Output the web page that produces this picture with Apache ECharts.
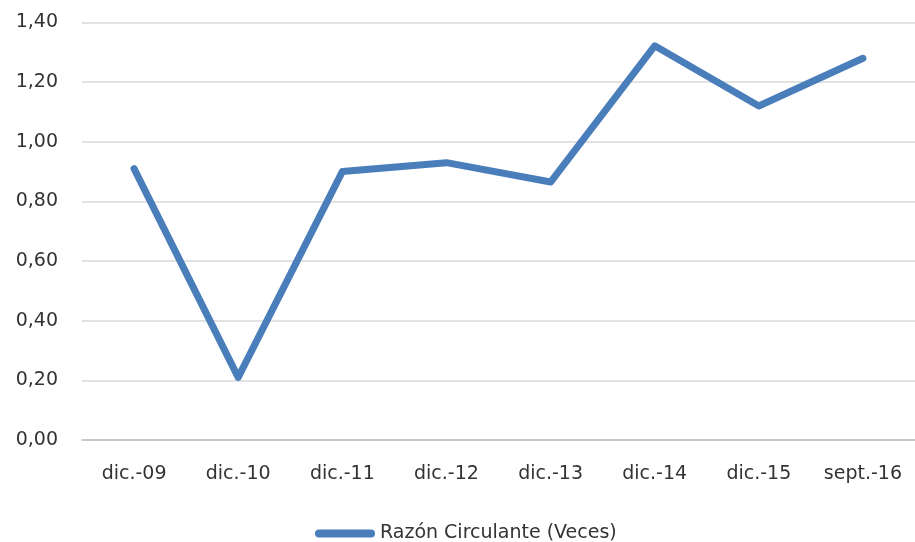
<!DOCTYPE html>
<html>
<head>
<meta charset="utf-8">
<script src="https://cdn.jsdelivr.net/npm/echarts@6/dist/echarts.min.js"></script>
<style>
  html, body { margin: 0; padding: 0; background: #fff; }
  #main { width: 915px; height: 542px; }
</style>
</head>
<body>
<div id="main"></div>
<script>
const categories = ["dic.-09", "dic.-10", "dic.-11", "dic.-12", "dic.-13", "dic.-14", "dic.-15", "sept.-16"];
const razonCirculante = [0.91, 0.21, 0.90, 0.93, 0.865, 1.322, 1.12, 1.28];
const seriesName = "Razón Circulante (Veces)";

const textColor = "#333333";
const fontFamily = "'DejaVu Sans', sans-serif";

let myChart = echarts.init(document.getElementById("main"));
let option = {
  animation: false,
  grid: {
    left: 82,
    right: -9,
    top: 22.5,
    bottom: 102,
    containLabel: false
  },
  legend: {
    left: 310,
    top: 519,
    itemWidth: 60,
    itemHeight: 8,
    itemGap: 10,
    icon: "path://M4,0 H56 A4,4 0 0 1 56,8 H4 A4,4 0 0 1 4,0 Z",
    textStyle: {
      color: textColor,
      fontSize: 19,
      fontFamily: fontFamily
    },
    data: [seriesName]
  },
  xAxis: {
    type: "category",
    data: categories,
    boundaryGap: true,
    axisLine: {
      lineStyle: { color: "#bfbfbf", width: 1.5 }
    },
    axisTick: {
      length: 6,
      lineStyle: { color: "#bfbfbf", width: 1.5 }
    },
    axisLabel: {
      interval: 0,
      margin: 25,
      color: textColor,
      fontSize: 19,
      fontFamily: fontFamily
    }
  },
  yAxis: {
    type: "value",
    min: 0,
    max: 1.4,
    interval: 0.2,
    axisLine: { show: false },
    axisTick: { show: false },
    splitLine: {
      lineStyle: { color: "#d9d9d9", width: 1.5 }
    },
    axisLabel: {
      margin: 24,
      color: textColor,
      fontSize: 19,
      fontFamily: fontFamily,
      formatter: v => v.toFixed(2).replace(".", ",")
    }
  },
  series: [
    {
      name: seriesName,
      type: "line",
      data: razonCirculante,
      symbol: "none",
      itemStyle: { color: "#4a7ebb" },
      lineStyle: {
        color: "#4a7ebb",
        width: 7,
        cap: "round",
        join: "round"
      }
    }
  ]
};
myChart.setOption(option);
</script>
</body>
</html>
